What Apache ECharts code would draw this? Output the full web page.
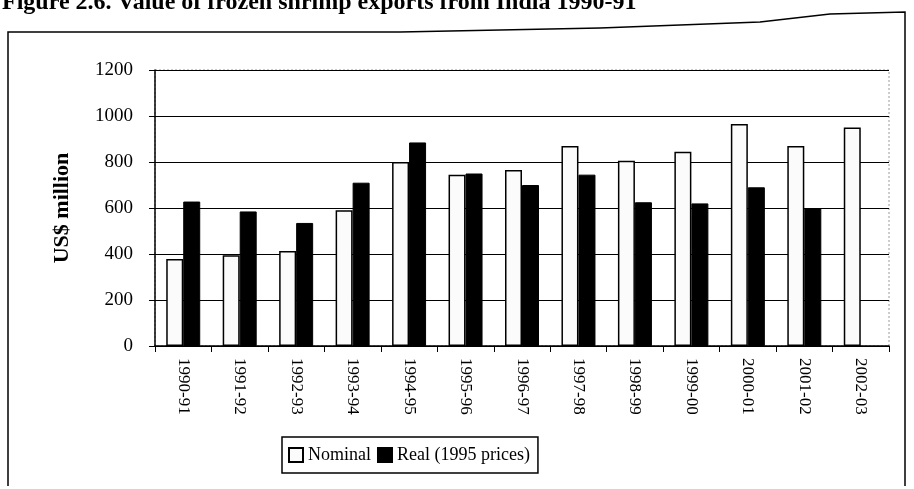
<!DOCTYPE html>
<html>
<head>
<meta charset="utf-8">
<script src="https://cdn.jsdelivr.net/npm/echarts@6/dist/echarts.min.js"></script>
<style>
html,body{margin:0;padding:0;background:#fff;}
#chart{width:914px;height:489px;}
</style>
</head>
<body>
<div id="chart"></div>
<script>
var categories = ['1990-91','1991-92','1992-93','1993-94','1994-95','1995-96','1996-97','1997-98','1998-99','1999-00','2000-01','2001-02','2002-03'];
var nominal = [378, 395, 413, 590, 800, 745, 765, 870, 805, 845, 965, 870, 950];
var real = [628, 585, 535, 710, 885, 750, 700, 745, 625, 620, 690, 600, null];
var yTicks = [0, 200, 400, 600, 800, 1000, 1200];

var serif = '"Liberation Serif", "DejaVu Serif", serif';
var chart = echarts.init(document.getElementById('chart'));
chart.setOption({
  backgroundColor: '#ffffff',
  animation: false,
  textStyle: { fontFamily: serif, color: '#000' },
  graphic: [
    { type: 'text', left: 2, top: -9, style: { text: 'Figure 2.6. Value of frozen shrimp exports from India 1990-91', font: 'bold 24px ' + serif, fill: '#000' } },
    { type: 'polyline', shape: { points: [[8, 486], [8, 32], [400, 32], [600, 28], [760, 22], [830, 14], [905, 12], [905, 486]] }, style: { stroke: '#000', lineWidth: 1.5, fill: null } },
    { type: 'rect', shape: { x: 155, y: 70, width: 734, height: 276 }, style: { stroke: '#999', lineWidth: 1, lineDash: [2, 2], fill: null }, z: 0 }
  ],
  grid: { left: 155, top: 70, right: 25, bottom: 143 },
  legend: {
    data: ['Nominal', 'Real (1995 prices)'],
    left: 282, top: 437,
    orient: 'horizontal',
    borderColor: '#000', borderWidth: 1.5,
    padding: [9, 8, 9, 6],
    itemWidth: 14, itemHeight: 14, itemGap: 6,
    textStyle: { fontFamily: serif, fontSize: 18, color: '#000' },
    icon: 'rect'
  },
  xAxis: {
    type: 'category',
    data: categories,
    axisLine: { lineStyle: { color: '#000', width: 1.5 } },
    axisTick: { show: true, length: 6, lineStyle: { color: '#000' } },
    axisLabel: { rotate: -90, fontFamily: serif, fontSize: 17, color: '#000', margin: 12 }
  },
  yAxis: {
    type: 'value',
    min: 0, max: 1200, interval: 200,
    name: 'US$ million',
    nameLocation: 'middle',
    nameGap: 82,
    nameRotate: 90,
    nameTextStyle: { fontFamily: serif, fontSize: 22, fontWeight: 'bold', color: '#000' },
    axisLine: { show: true, lineStyle: { color: '#000', width: 1.5 } },
    axisTick: { show: true, length: 6, lineStyle: { color: '#000' } },
    axisLabel: { fontFamily: serif, fontSize: 19, color: '#000', margin: 22,
      formatter: function (v) { return yTicks.indexOf(v) >= 0 ? String(v) : ''; } },
    splitLine: { show: true, lineStyle: { color: '#000', width: 1.2 } }
  },
  series: [
    { name: 'Nominal', type: 'bar', data: nominal, barWidth: 17, barGap: '0%',
      itemStyle: { color: '#fbfbfb', borderColor: '#000', borderWidth: 1.5 } },
    { name: 'Real (1995 prices)', type: 'bar', data: real, barWidth: 17,
      itemStyle: { color: '#000', borderColor: '#000', borderWidth: 1 } }
  ]
});
</script>
</body>
</html>
